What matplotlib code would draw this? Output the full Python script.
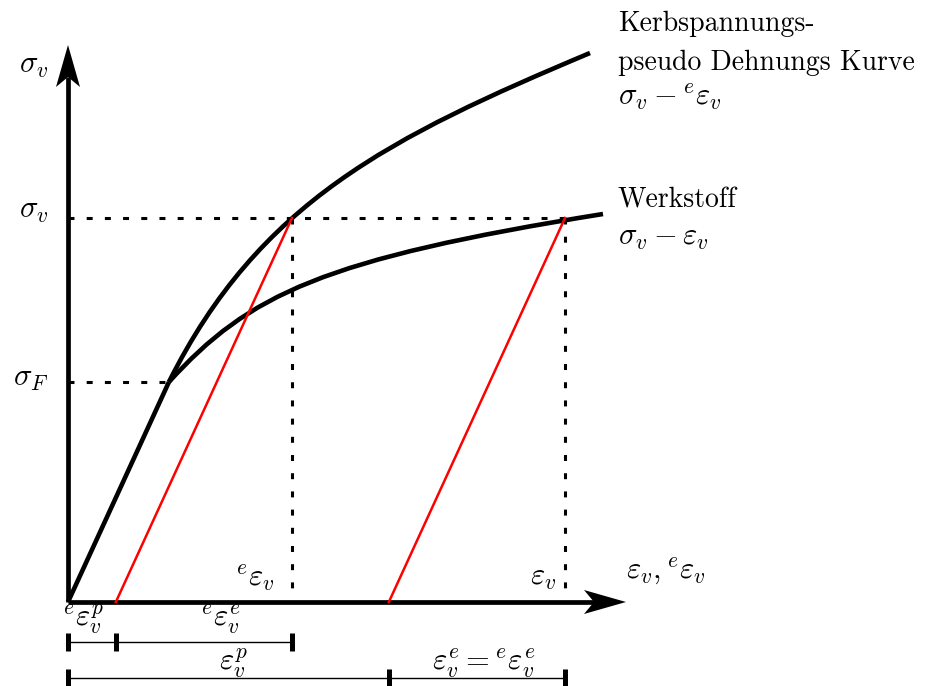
import matplotlib.pyplot as plt
from matplotlib.path import Path
from matplotlib.patches import PathPatch, Polygon

plt.rcParams['mathtext.fontset'] = 'cm'
plt.rcParams['font.family'] = ['cmr10', 'DejaVu Serif']
plt.rcParams['lines.scale_dashes'] = False

# diagram units: origin at the axes corner, y upwards
E = 2.18                      # elastic slope
sig_F = 220                   # yield stress
sig_v = 384                   # equivalent stress level
eps_F = sig_F / E
eps_e_v = 224                 # pseudo strain on the notch curve at sig_v
eps_v = 497                   # material strain at sig_v

# control points (cubic Bezier) of the two curves, starting at the yield point
kerb_eps = [eps_F, 191, 322, 522]
kerb_sig = [sig_F, 400, 465, 549]
werk_eps = [eps_F, 181, 255, 535]
werk_sig = [sig_F, 308, 343, 388]

# plastic strains after elastic unloading
eps_p_kerb = eps_e_v - sig_v / E
eps_p = eps_v - sig_v / E

x_arrow_tip = 558
y_arrow_tip = 557

fig = plt.figure(figsize=(9.34, 6.86), dpi=100)
ax = fig.add_axes([0, 0, 1, 1])
ax.set_xlim(-68, 866)
ax.set_ylim(-84, 602)
ax.axis('off')

lw_axis = 3.4
lw_curve = 3.3
dash = dict(color='black', lw=2.2, dashes=(4.3, 8.8), solid_capstyle='butt',
            dash_capstyle='butt')

# axes with arrow heads
ax.plot([0, 0], [0, y_arrow_tip - 32], color='black', lw=lw_axis, solid_capstyle='butt')
ax.plot([0, x_arrow_tip - 32], [0, 0], color='black', lw=lw_axis, solid_capstyle='butt')
ax.add_patch(Polygon([(0, y_arrow_tip), (12, y_arrow_tip - 42), (0, y_arrow_tip - 32),
                      (-12, y_arrow_tip - 42)], closed=True, color='black', lw=0))
ax.add_patch(Polygon([(x_arrow_tip, 0), (x_arrow_tip - 42, 12), (x_arrow_tip - 32, 0),
                      (x_arrow_tip - 42, -12)], closed=True, color='black', lw=0))

# dashed guide lines
ax.plot([0, eps_F], [sig_F, sig_F], **dash)
ax.plot([0, eps_v], [sig_v, sig_v], **dash)
ax.plot([eps_e_v, eps_e_v], [sig_v, 14], **dash)
ax.plot([eps_v, eps_v], [sig_v, 14], **dash)

# elastic unloading lines
ax.plot([eps_p_kerb, eps_e_v], [0, sig_v], color='red', lw=1.8)
ax.plot([eps_p, eps_v], [0, sig_v], color='red', lw=1.8)

# elastic branch and the two curves
ax.plot([0, eps_F], [0, sig_F], color='black', lw=lw_curve, solid_capstyle='butt')
codes = [Path.MOVETO, Path.CURVE4, Path.CURVE4, Path.CURVE4]
for xs, ys in ((kerb_eps, kerb_sig), (werk_eps, werk_sig)):
    ax.add_patch(PathPatch(Path(list(zip(xs, ys)), codes), fill=False,
                           edgecolor='black', lw=lw_curve, capstyle='butt'))

fs = 20       # running text
fm = 22       # formulas

# axis labels
ax.text(-20, 529, r'$\sigma_v$', fontsize=fm, ha='right', va='baseline')
ax.text(-20, 384, r'$\sigma_v$', fontsize=fm, ha='right', va='baseline')
ax.text(-20, 216, r'$\sigma_F$', fontsize=fm, ha='right', va='baseline')
ax.text(206, 15, r'${}^e\varepsilon_v$', fontsize=fm, ha='right', va='baseline')
ax.text(488, 17, r'$\varepsilon_v$', fontsize=fm, ha='right', va='baseline')
ax.text(558, 23, r'$\varepsilon_v, {}^e\varepsilon_v$', fontsize=fm, ha='left', va='baseline')

# curve labels
ax.text(550, 571, 'Kerbspannungs-', fontsize=fs, ha='left', va='baseline')
ax.text(550, 532, 'pseudo Dehnungs Kurve', fontsize=fs, ha='left', va='baseline')
ax.text(550, 496, r'$\sigma_v - {}^e\varepsilon_v$', fontsize=fm, ha='left', va='baseline')
ax.text(550, 395, 'Werkstoff', fontsize=fs, ha='left', va='baseline')
ax.text(550, 357, r'$\sigma_v - \varepsilon_v$', fontsize=fm, ha='left', va='baseline')

# dimension lines under the strain axis
row1, row2 = -40, -76
for y, stops in ((row1, [0, eps_p_kerb, eps_e_v]), (row2, [0, eps_p, eps_v])):
    ax.plot([stops[0], stops[-1]], [y, y], color='black', lw=1.0)
    ax.plot(stops, [y] * len(stops), ls='none', marker='|', ms=13, mew=3.6,
            color='black')

ax.text(15, -24, r'${}^e\varepsilon_v^p$', fontsize=fm, ha='center', va='baseline')
ax.text(152, -24, r'${}^e\varepsilon_v^e$', fontsize=fm, ha='center', va='baseline')
ax.text(165, -68, r'$\varepsilon_v^p$', fontsize=fm, ha='center', va='baseline')
ax.text(416, -68, r'$\varepsilon_v^e = {}^e\varepsilon_v^e$', fontsize=fm, ha='center',
        va='baseline')

fig.savefig('out.png', dpi=100, facecolor='white')
